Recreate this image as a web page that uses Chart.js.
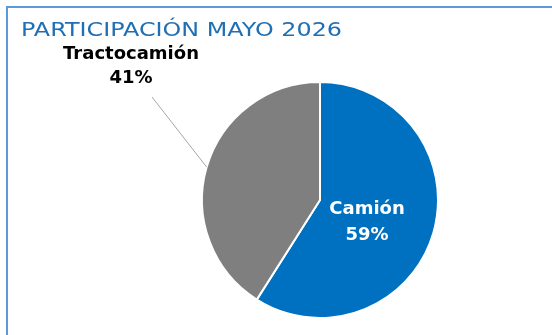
<!DOCTYPE html>
<html>
<head>
<meta charset="utf-8">
<script src="https://cdn.jsdelivr.net/npm/chart.js@4"></script>
<style>
  html, body { margin: 0; padding: 0; background: #fff; overflow: hidden; }
</style>
</head>
<body>
<canvas id="pieChart" width="552" height="335"></canvas>
<script>
const titulo = 'PARTICIPACIÓN MAYO 2026';
const categorias = ['Camión', 'Tractocamión'];
const valores = [59, 41];
const colores = ['#0070c0', '#7f7f7f'];

const fuente = "'DejaVu Sans', sans-serif";

// Marco azul (solo lados superior e izquierdo visibles) y título
const marcoPlugin = {
  id: 'marco',
  beforeDraw(chart) {
    const ctx = chart.ctx;
    ctx.save();
    ctx.strokeStyle = '#5b9bd5';
    ctx.lineWidth = 2;
    ctx.beginPath();
    ctx.moveTo(7, chart.height);
    ctx.lineTo(7, 7);
    ctx.lineTo(chart.width, 7);
    ctx.stroke();

    ctx.fillStyle = '#1f6fb4';
    ctx.font = "19px " + fuente;
    ctx.textAlign = 'left';
    ctx.textBaseline = 'alphabetic';
    const ancho = ctx.measureText(titulo).width;
    ctx.translate(21, 36);
    ctx.scale(321 / ancho, 1);
    ctx.fillText(titulo, 0, 0);
    ctx.restore();
  }
};

// Etiquetas: dentro para Camión, fuera con línea guía para Tractocamión
const etiquetasPlugin = {
  id: 'etiquetas',
  afterDraw(chart) {
    const ctx = chart.ctx;
    const meta = chart.getDatasetMeta(0);
    const total = valores.reduce((a, b) => a + b, 0);

    ctx.save();
    meta.data.forEach((arc, i) => {
      const p = arc.getProps(['x', 'y', 'startAngle', 'endAngle', 'outerRadius']);
      const mid = (p.startAngle + p.endAngle) / 2;
      const pct = Math.round(valores[i] / total * 100) + '%';
      ctx.font = "bold 18px " + fuente;
      ctx.textAlign = 'center';
      ctx.textBaseline = 'middle';
      if (i === 0) {
        ctx.fillStyle = '#ffffff';
        ctx.fillText(categorias[i], p.x + 47, p.y + 9);
        ctx.fillText(pct, p.x + 47, p.y + 35);
      } else {
        const ex = p.x + Math.cos(mid) * p.outerRadius;
        const ey = p.y + Math.sin(mid) * p.outerRadius;
        ctx.strokeStyle = '#a6a6a6';
        ctx.lineWidth = 1;
        ctx.beginPath();
        ctx.moveTo(ex, ey);
        ctx.lineTo(p.x - 168, p.y - 103);
        ctx.stroke();
        ctx.fillStyle = '#000000';
        ctx.fillText(categorias[i], p.x - 189, p.y - 146);
        ctx.fillText(pct, p.x - 189, p.y - 122);
      }
    });
    ctx.restore();
  }
};

new Chart(document.getElementById('pieChart'), {
  type: 'pie',
  data: {
    labels: categorias,
    datasets: [{
      data: valores,
      backgroundColor: colores,
      borderColor: '#ffffff',
      borderWidth: 2
    }]
  },
  options: {
    responsive: false,
    animation: false,
    layout: { padding: { left: 201, right: 113, top: 81, bottom: 16 } },
    plugins: {
      legend: { display: false },
      tooltip: { enabled: false }
    }
  },
  plugins: [marcoPlugin, etiquetasPlugin]
});
</script>
</body>
</html>
